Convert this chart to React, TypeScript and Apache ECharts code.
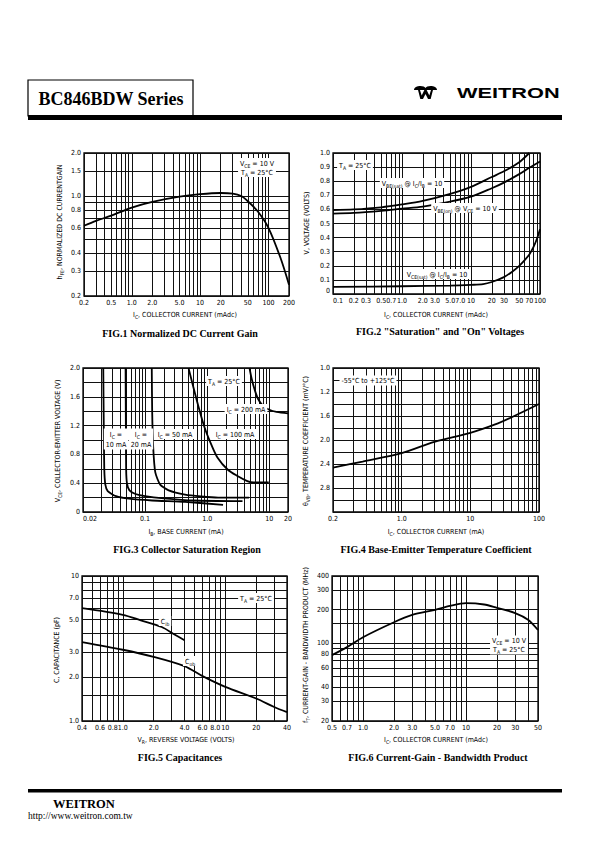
import React, { useEffect, useRef } from 'react';
import * as echarts from 'echarts';

// ---------------- DATA ----------------
// Fig.1 Normalized DC current gain
const fig1Ic = [0.2, 0.3, 0.5, 1, 2, 5, 10, 20, 30, 40, 50, 70, 100, 150, 200];
const fig1Hfe = [0.62, 0.67, 0.73, 0.83, 0.91, 0.99, 1.03, 1.05, 1.04, 1.0, 0.92, 0.78, 0.6, 0.37, 0.24];
const fig1XTicks = [0.2, 0.5, 1, 2, 5, 10, 20, 50, 100, 200];
const fig1XText = ['0.2', '0.5', '1.0', '2.0', '5.0', '10', '20', '50', '100', '200'];
const fig1YTicks = [0.2, 0.3, 0.4, 0.6, 0.8, 1.0, 1.5, 2.0];
const fig1YText = ['0.2', '0.3', '0.4', '0.6', '0.8', '1.0', '1.5', '2.0'];
const fig1YGrid = [0.2, 0.3, 0.4, 0.5, 0.6, 0.7, 0.8, 0.9, 1.0, 1.5, 2.0];

// Fig.2 Saturation and On voltages
const fig2IcSat = [0.1, 0.2, 0.5, 1, 2, 5, 10, 20, 30, 50, 70];
const fig2VbeSat = [0.595, 0.6, 0.615, 0.635, 0.66, 0.71, 0.76, 0.83, 0.87, 0.935, 1.0];
const fig2IcOn = [0.1, 0.2, 0.5, 1, 2, 5, 10, 20, 30, 50, 70, 100];
const fig2VbeOn = [0.57, 0.575, 0.59, 0.605, 0.62, 0.655, 0.69, 0.75, 0.79, 0.85, 0.895, 0.94];
const fig2IcCe = [0.1, 1, 5, 10, 15, 20, 30, 40, 50, 60, 70, 80, 90, 100];
const fig2VceSat = [0.05, 0.055, 0.06, 0.065, 0.07, 0.085, 0.12, 0.16, 0.2, 0.24, 0.28, 0.33, 0.39, 0.46];
const fig2XTicks = [0.1, 0.2, 0.3, 0.5, 0.7, 1, 2, 3, 5, 7, 10, 20, 30, 50, 70, 100];
const fig2XText = ['0.1', '0.2', '0.3', '0.5', '0.7', '1.0', '2.0', '3.0', '5.0', '7.0', '10', '20', '30', '50', '70', '100'];
const fig2YTicks = [0, 0.1, 0.2, 0.3, 0.4, 0.5, 0.6, 0.7, 0.8, 0.9, 1.0];
const fig2YText = ['0', '0.1', '0.2', '0.3', '0.4', '0.5', '0.6', '0.7', '0.8', '0.9', '1.0'];

// Fig.3 Collector saturation region
const fig3Ib10 = [0.0212, 0.0216, 0.022, 0.0229, 0.025, 0.034, 0.055, 0.13, 0.44, 1.8];
const fig3V10 = [2.0, 1.2, 0.6, 0.38, 0.29, 0.22, 0.185, 0.16, 0.14, 0.1];
const fig3Ib20 = [0.0485, 0.049, 0.0495, 0.051, 0.056, 0.07, 0.1, 0.2, 0.6, 3.7];
const fig3V20 = [2.0, 1.2, 0.6, 0.4, 0.3, 0.25, 0.22, 0.19, 0.16, 0.15];
const fig3Ib50 = [0.128, 0.13, 0.135, 0.146, 0.175, 0.24, 0.44, 0.8, 1.5, 4.7];
const fig3V50 = [2.0, 1.4, 0.9, 0.55, 0.38, 0.3, 0.24, 0.215, 0.2, 0.2];
const fig3Ib100 = [0.5, 0.71, 0.91, 1.16, 1.48, 2.13, 3.07, 4.42, 5.64, 9.8];
const fig3V100 = [2.0, 1.49, 1.17, 0.94, 0.75, 0.59, 0.5, 0.43, 0.41, 0.41];
const fig3Ib200 = [4.8, 5.2, 5.8, 6.6, 8, 10, 13, 20];
const fig3V200 = [2.0, 1.85, 1.7, 1.57, 1.47, 1.42, 1.39, 1.37];
const fig3XTicks = [0.01, 0.1, 1, 10, 20];
const fig3XText = ['0.02', '0.1', '1.0', '10', '20'];
const fig3YTicks = [0, 0.4, 0.8, 1.2, 1.6, 2.0];
const fig3YText = ['0', '0.4', '0.8', '1.2', '1.6', '2.0'];

// Fig.4 Base-emitter temperature coefficient
const fig4Ic = [0.1, 0.27, 1, 3, 10, 23, 40, 100];
const fig4Tc = [2.46, 2.36, 2.22, 2.03, 1.88, 1.74, 1.62, 1.4];
const fig4XTicks = [0.1, 1, 10, 100];
const fig4XText = ['0.2', '1.0', '10', '100'];
const fig4YTicks = [0.8, 1.2, 1.6, 2.0, 2.4, 2.8];
const fig4YText = ['1.0', '1.2', '1.6', '2.0', '2.4', '2.8'];

// Fig.5 Capacitances
const fig5VrCib = [0.4, 1, 1.5, 2.4, 3.1, 4.0];
const fig5Cib = [6.0, 5.4, 4.95, 4.45, 4.0, 3.6];
const fig5VrCob = [0.4, 1, 2, 4, 6, 10, 20, 30, 40];
const fig5Cob = [3.5, 3.1, 2.77, 2.39, 2.04, 1.72, 1.43, 1.25, 1.15];
const fig5XTicks = [0.4, 0.6, 0.8, 1, 2, 4, 6, 8, 10, 20, 40];
const fig5XText = ['0.4', '0.6', '0.8', '1.0', '2.0', '4.0', '6.0', '8.0', '10', '20', '40'];
const fig5YTicks = [1, 2, 3, 5, 7, 10];
const fig5YText = ['1.0', '2.0', '3.0', '5.0', '7.0', '10'];
const fig5YGrid = [1, 1.5, 2, 3, 4, 5, 6, 7, 8, 9, 10];

// Fig.6 Current-gain bandwidth product
const fig6Ic = [0.5, 0.7, 1, 2, 3, 5, 7, 10, 15, 20, 30, 40, 50];
const fig6Ft = [78, 92, 113, 154, 179, 199, 216, 228, 222, 207, 186, 162, 131];
const fig6XTicks = [0.5, 0.7, 1, 2, 3, 5, 7, 10, 20, 30, 50];
const fig6XText = ['0.5', '0.7', '1.0', '2.0', '3.0', '5.0', '7.0', '10', '20', '30', '50'];
const fig6YTicks = [20, 30, 40, 60, 80, 100, 200, 300, 400];
const fig6YText = ['20', '30', '40', '60', '80', '100', '200', '300', '400'];
const fig6YGrid = [20, 30, 40, 50, 60, 70, 80, 90, 100, 150, 200, 300, 400];

// ---------------- HELPERS ----------------
const NARROW = "'Liberation Sans Narrow','DejaVu Sans Condensed','Liberation Sans',sans-serif";
const SERIF = "'Liberation Serif','Times New Roman',serif";
const SANS = "'Liberation Sans',Arial,sans-serif";

const L10 = Math.log10;
const tfOf = (log: boolean) => (v: number) => (log ? L10(v) : v);

function logGrid(min: number, max: number): number[] {
  const out: number[] = [];
  for (let e = Math.floor(L10(min)) - 1; e <= Math.ceil(L10(max)); e++) {
    for (let m = 1; m < 10; m++) {
      const v = +(m * Math.pow(10, e)).toPrecision(6);
      if (v >= min * 0.999 && v <= max * 1.001) out.push(v);
    }
  }
  return out;
}
function linGrid(min: number, max: number, step: number): number[] {
  const out: number[] = [];
  const n = Math.round((max - min) / step);
  for (let i = 0; i <= n; i++) out.push(+(min + i * step).toFixed(6));
  return out;
}

type AxisCfg = {
  gi: number;
  log: boolean;
  min: number;
  max: number;
  grid: number[];
  ticks: number[];
  texts: string[];
  inverse?: boolean;
  minAlign?: string;
  minVAlign?: string;
};

function mkAxis(c: AxisCfg) {
  const t = tfOf(c.log);
  const tv = c.ticks.map(t);
  const axisLabel: any = {
    customValues: tv,
    fontSize: 7,
    fontFamily: NARROW,
    color: '#000',
    margin: 3,
    hideOverlap: false,
    formatter: (v: number) => {
      let bi = 0;
      let bd = Infinity;
      tv.forEach((x, i) => {
        const d = Math.abs(x - v);
        if (d < bd) {
          bd = d;
          bi = i;
        }
      });
      return c.texts[bi];
    },
  };
  if (c.minAlign) axisLabel.alignMinLabel = c.minAlign;
  if (c.minVAlign) axisLabel.verticalAlignMinLabel = c.minVAlign;
  return {
    type: 'value',
    gridIndex: c.gi,
    min: t(c.min),
    max: t(c.max),
    inverse: !!c.inverse,
    axisLine: { show: false },
    axisTick: { show: false, customValues: c.grid.map(t) },
    splitLine: { show: true, lineStyle: { color: '#111', width: 1 } },
    axisLabel,
  };
}

function curve(gi: number, xs: number[], ys: number[], xLog: boolean, yLog: boolean, smooth = 0.3) {
  const tx = tfOf(xLog);
  const ty = tfOf(yLog);
  return {
    type: 'line',
    xAxisIndex: gi,
    yAxisIndex: gi,
    data: xs.map((x, i) => [tx(x), ty(ys[i])]),
    smooth,
    symbol: 'none',
    lineStyle: { color: '#000', width: 1.8 },
    silent: true,
    z: 5,
  };
}

const rich = (fs: number) => ({
  n: { fontSize: fs, fontFamily: NARROW, fill: '#000', color: '#000' },
  s: { fontSize: fs * 0.72, fontFamily: NARROW, fill: '#000', color: '#000', verticalAlign: 'bottom' },
});

function label(x: number, y: number, text: string, opts: any = {}) {
  return {
    type: 'text',
    x,
    y,
    rotation: opts.rotation || 0,
    z: 100,
    style: {
      text,
      rich: rich(opts.fs || 7),
      align: 'center',
      verticalAlign: 'middle',
      fill: '#000',
      lineHeight: opts.lh || 9,
      backgroundColor: opts.bg === false ? undefined : '#fff',
      padding: opts.bg === false ? 0 : [1, 2, 0, 2],
    },
  };
}

function caption(x: number, y: number, text: string) {
  return {
    type: 'text',
    x,
    y,
    z: 100,
    style: {
      text,
      font: `bold 10px ${SERIF}`,
      fill: '#000',
      align: 'center',
      verticalAlign: 'middle',
    },
  };
}

const LOGO_D =
  'M0 5 C0 0 9 0 10 3 C11 0 20 0 20 5 Z M3.5 5 L5.2 5 L6.7 10.5 L9 5 L11 5 L13.3 10.5 L14.8 5 L16.5 5 L14.5 14 L12.2 14 L10 9 L7.8 14 L5.5 14 Z';
let logoReady = false;
function ensureLogo() {
  if (logoReady) return;
  try {
    echarts.graphic.registerShape('wlogo', (echarts.graphic as any).extendPath(LOGO_D, {}));
    logoReady = true;
  } catch (e) {
    logoReady = false;
  }
}

function buildOption() {
  const grids = [
    { left: 84, top: 153, width: 205, height: 143 },
    { left: 333, top: 153, width: 207, height: 141 },
    { left: 83, top: 368, width: 205, height: 144 },
    { left: 333, top: 368, width: 206, height: 144 },
    { left: 82, top: 576, width: 205, height: 145 },
    { left: 332, top: 576, width: 206, height: 145 },
  ].map((g) => ({ ...g, show: true, borderColor: '#000', borderWidth: 1.3, backgroundColor: 'rgba(0,0,0,0)' }));

  const xAxis = [
    mkAxis({ gi: 0, log: true, min: 0.2, max: 200, grid: logGrid(0.2, 200), ticks: fig1XTicks, texts: fig1XText }),
    mkAxis({ gi: 1, log: true, min: 0.1, max: 100, grid: logGrid(0.1, 100), ticks: fig2XTicks, texts: fig2XText, minAlign: 'left' }),
    mkAxis({ gi: 2, log: true, min: 0.01, max: 20, grid: logGrid(0.01, 20), ticks: fig3XTicks, texts: fig3XText, minAlign: 'left' }),
    mkAxis({ gi: 3, log: true, min: 0.1, max: 100, grid: logGrid(0.1, 100), ticks: fig4XTicks, texts: fig4XText }),
    mkAxis({ gi: 4, log: true, min: 0.4, max: 40, grid: logGrid(0.4, 40), ticks: fig5XTicks, texts: fig5XText }),
    mkAxis({ gi: 5, log: true, min: 0.5, max: 50, grid: logGrid(0.5, 50), ticks: fig6XTicks, texts: fig6XText }),
  ];
  const yAxis = [
    mkAxis({ gi: 0, log: true, min: 0.2, max: 2.0, grid: fig1YGrid, ticks: fig1YTicks, texts: fig1YText }),
    mkAxis({ gi: 1, log: false, min: 0, max: 1.0, grid: linGrid(0, 1, 0.1), ticks: fig2YTicks, texts: fig2YText, minVAlign: 'bottom' }),
    mkAxis({ gi: 2, log: false, min: 0, max: 2.0, grid: linGrid(0, 2, 0.2), ticks: fig3YTicks, texts: fig3YText }),
    mkAxis({ gi: 3, log: false, min: 0.8, max: 3.2, grid: linGrid(0.8, 3.2, 0.2), ticks: fig4YTicks, texts: fig4YText, inverse: true }),
    mkAxis({ gi: 4, log: true, min: 1, max: 10, grid: fig5YGrid, ticks: fig5YTicks, texts: fig5YText }),
    mkAxis({ gi: 5, log: true, min: 20, max: 400, grid: fig6YGrid, ticks: fig6YTicks, texts: fig6YText }),
  ];

  const series = [
    curve(0, fig1Ic, fig1Hfe, true, true),
    curve(1, fig2IcSat, fig2VbeSat, true, false),
    curve(1, fig2IcOn, fig2VbeOn, true, false),
    curve(1, fig2IcCe, fig2VceSat, true, false),
    curve(2, fig3Ib10, fig3V10, true, false, 0.2),
    curve(2, fig3Ib20, fig3V20, true, false, 0.2),
    curve(2, fig3Ib50, fig3V50, true, false, 0.2),
    curve(2, fig3Ib100, fig3V100, true, false, 0.3),
    curve(2, fig3Ib200, fig3V200, true, false, 0.3),
    curve(3, fig4Ic, fig4Tc, true, false),
    curve(4, fig5VrCib, fig5Cib, true, true),
    curve(4, fig5VrCob, fig5Cob, true, true),
    curve(5, fig6Ic, fig6Ft, true, true),
  ];

  ensureLogo();
  const graphic: any[] = [
    // header
    { type: 'rect', shape: { x: 28, y: 80, width: 165, height: 36 }, style: { fill: 'none', stroke: '#000', lineWidth: 1.2 } },
    { type: 'rect', shape: { x: 28, y: 115, width: 534, height: 5 }, style: { fill: '#000' } },
    { type: 'text', x: 111, y: 99, style: { text: 'BC846BDW Series', font: `bold 18px ${SERIF}`, fill: '#000', align: 'center', verticalAlign: 'middle' } },
    { type: 'text', x: 457, y: 92.5, scaleX: 1.45, style: { text: 'WEITRON', font: `900 15px ${SANS}`, fill: '#000', align: 'left', verticalAlign: 'middle' } },
    // footer
    { type: 'rect', shape: { x: 28, y: 789, width: 534, height: 3.5 }, style: { fill: '#000' } },
    { type: 'text', x: 53, y: 804, style: { text: 'WEITRON', font: `bold 12.5px ${SERIF}`, fill: '#000', align: 'left', verticalAlign: 'middle' } },
    { type: 'text', x: 28, y: 815.5, style: { text: 'http://www.weitron.com.tw', font: `9.5px ${SERIF}`, fill: '#000', align: 'left', verticalAlign: 'middle' } },

    // Fig 1
    label(60, 222, '{n|h}{s|FE}{n|, NORMALIZED DC CURRENTGAIN}', { rotation: Math.PI / 2, bg: false }),
    label(185, 315, '{n|I}{s|C}{n|, COLLECTOR CURRENT (mAdc)}', { bg: false }),
    label(257, 167.5, '{n|V}{s|CE}{n| = 10 V}\n{n|T}{s|A}{n| = 25°C}'),
    caption(180, 333, 'FIG.1 Normalized DC Current Gain'),

    // Fig 2
    label(307, 223, '{n|V, VOLTAGE (VOLTS)}', { rotation: Math.PI / 2, bg: false }),
    label(436, 315, '{n|I}{s|C}{n|, COLLECTOR CURRENT (mAdc)}', { bg: false }),
    label(355, 165, '{n|T}{s|A}{n| = 25°C}'),
    label(412, 183, '{n|V}{s|BE(sat)}{n| @ I}{s|C}{n|/I}{s|B}{n| = 10}'),
    label(465, 208, '{n|V}{s|BE(on)}{n| @ V}{s|CE}{n| = 10 V}'),
    label(437, 274, '{n|V}{s|CE(sat)}{n| @ I}{s|C}{n|/I}{s|B}{n| = 10}'),
    caption(440, 331, 'FIG.2 "Saturation" and "On" Voltages'),

    // Fig 3
    label(58, 441, '{n|V}{s|CE}{n|, COLLECTOR-EMITTER VOLTAGE (V)}', { rotation: Math.PI / 2, bg: false }),
    label(186, 532, '{n|I}{s|B}{n|, BASE CURRENT (mA)}', { bg: false }),
    label(224, 381, '{n|T}{s|A}{n| = 25°C}'),
    label(246, 409, '{n|I}{s|C}{n| = 200 mA}'),
    label(116, 439, '{n|I}{s|C}{n| =}\n{n|10 mA}', { lh: 10 }),
    label(141, 439, '{n|I}{s|C}{n| =}\n{n|20 mA}', { lh: 10 }),
    label(175, 434, '{n|I}{s|C}{n| = 50 mA}'),
    label(235, 434, '{n|I}{s|C}{n| = 100 mA}'),
    caption(187, 549, 'FIG.3 Collector Saturation Region'),

    // Fig 4
    label(306, 441, '{n|θ}{s|VB}{n|, TEMPERATURE COEFFICIENT (mV/°C)}', { rotation: Math.PI / 2, bg: false }),
    label(436, 532, '{n|I}{s|C}{n|, COLLECTOR CURRENT (mA)}', { bg: false }),
    label(368, 380.5, '{n|-55°C to +125°C}'),
    caption(436, 549, 'FIG.4 Base-Emitter Temperature Coefficient'),

    // Fig 5
    label(57, 650, '{n|C, CAPACITANCE (pF)}', { rotation: Math.PI / 2, bg: false }),
    label(186, 740, '{n|V}{s|R}{n|, REVERSE VOLTAGE (VOLTS)}', { bg: false }),
    label(256, 598, '{n|T}{s|A}{n| = 25°C}'),
    label(165, 621, '{n|C}{s|ib}'),
    label(190, 661, '{n|C}{s|ob}'),
    caption(180, 757, 'FIG.5 Capacitances'),

    // Fig 6
    label(306, 645, '{n|f}{s|T}{n|, CURRENT-GAIN - BANDWIDTH PRODUCT (MHz)}', { rotation: Math.PI / 2, bg: false }),
    label(436, 740, '{n|I}{s|C}{n|, COLLECTOR CURRENT (mAdc)}', { bg: false }),
    label(509, 645, '{n|V}{s|CE}{n| = 10 V}\n{n|T}{s|A}{n| = 25°C}'),
    caption(438, 757, 'FIG.6 Current-Gain - Bandwidth Product'),
  ];
  if (logoReady) {
    graphic.push({ type: 'wlogo', x: 414, y: 85, scaleX: 1.15, scaleY: 1.0, style: { fill: '#000' } });
  }

  return {
    animation: false,
    backgroundColor: '#fff',
    grid: grids,
    xAxis,
    yAxis,
    series,
    graphic,
  };
}

export default function App() {
  const ref = useRef<HTMLDivElement>(null);
  useEffect(() => {
    if (!ref.current) return;
    const chart = echarts.init(ref.current, null, { renderer: 'svg' });
    chart.setOption(buildOption() as any);
    return () => chart.dispose();
  }, []);
  return (
    <div
      ref={ref}
      style={{ position: 'absolute', left: 0, top: 0, width: 595, height: 842, background: '#fff' }}
    />
  );
}
